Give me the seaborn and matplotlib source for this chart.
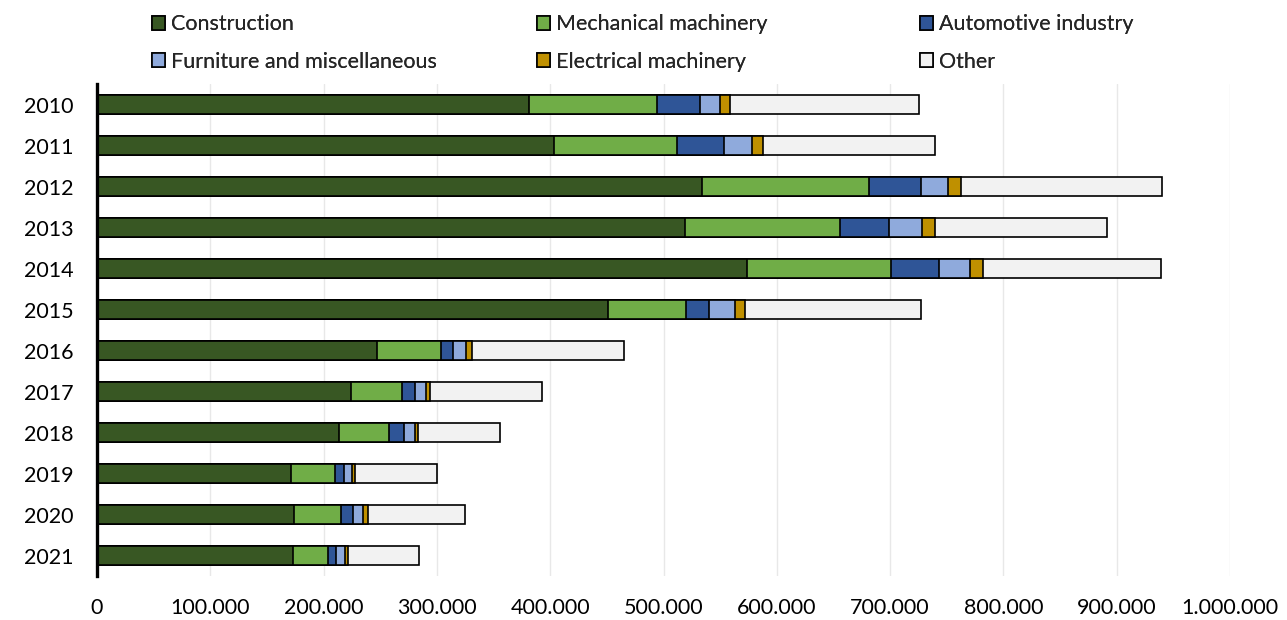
import numpy as np
import pandas as pd
import matplotlib
matplotlib.use("Agg")
import matplotlib.pyplot as plt
import seaborn as sns
from matplotlib.patches import Patch
from matplotlib.ticker import FuncFormatter, MultipleLocator

# ---- data ----
years = ["2010", "2011", "2012", "2013", "2014", "2015",
         "2016", "2017", "2018", "2019", "2020", "2021"]
construction = [381600, 403500, 533800, 519200, 574000, 451200,
                247400, 223900, 213900, 171200, 173900, 173000]
mechanical = [112500, 108400, 147300, 136600, 126700, 68700,
              56000, 45600, 44100, 38600, 41200, 30900]
automotive = [38400, 41900, 45900, 43500, 42200, 20000,
              11100, 10900, 13000, 8200, 11100, 7000]
furniture = [17500, 24200, 24400, 29000, 27400, 23300,
             10900, 10000, 9700, 6800, 8800, 7700]
electrical = [9100, 9800, 11100, 11200, 11800, 8700,
              5600, 3500, 2900, 3200, 4200, 2700]
other = [166600, 151400, 177700, 152000, 157400, 155100,
         133900, 98600, 72100, 71800, 85300, 63200]

series_names = ["Construction", "Mechanical machinery", "Automotive industry",
                "Furniture and miscellaneous", "Electrical machinery", "Other"]
colors = ["#385723", "#70AD47", "#2F5597", "#8FAADC", "#BF9000", "#F2F2F2"]

# ---- style ----
sns.set_theme(style="white")
plt.rcParams["font.family"] = ["Lato", "DejaVu Sans"]
FS = 15.5

W, H = 1287, 620
fig = plt.figure(figsize=(W / 100, H / 100), dpi=100)
ax = fig.add_axes([97 / W, 1 - 576 / H, (1230 - 97) / W, (576 - 84) / H])

values = np.array([construction, mechanical, automotive, furniture, electrical, other])
cum = np.cumsum(values, axis=0)
df = pd.DataFrame({"year": years})
for i, name in enumerate(series_names):
    df[name] = cum[i]

# draw cumulative bars from the longest to the shortest so they stack visually
for i in reversed(range(len(series_names))):
    sns.barplot(data=df, x=series_names[i], y="year", order=years, orient="h",
                color=colors[i], saturation=1, width=0.45,
                edgecolor="black", linewidth=1.2, errorbar=None, ax=ax)

ax.set_xlim(0, 1_000_000)
ax.set_ylim(11.5, -0.5)
ax.xaxis.set_major_locator(MultipleLocator(100_000))
ax.xaxis.set_major_formatter(FuncFormatter(lambda v, p: f"{int(round(v)):,}".replace(",", ".")))
ax.set_xlabel("")
ax.set_ylabel("")
ax.set_axisbelow(True)
ax.grid(axis="x", color="#E8E8E8", linewidth=1.0)
ax.grid(axis="y", visible=False)
for s in ["top", "right", "bottom"]:
    ax.spines[s].set_visible(False)
ax.spines["left"].set_color("black")
ax.spines["left"].set_linewidth(2.4)
ax.tick_params(axis="x", length=0, pad=16, labelsize=FS, labelcolor="black")
ax.tick_params(axis="y", length=0, pad=17, labelsize=FS, labelcolor="black")

# ---- legend: 3 columns x 2 rows, placed like the reference ----
col_x = [152, 537, 920]
row_y = [24.5, 61.5]
for idx, name in enumerate(series_names):
    r, c = divmod(idx, 3)
    h = Patch(facecolor=colors[idx], edgecolor="black", linewidth=1.2)
    leg = fig.legend(handles=[h], labels=[name], loc="center left",
                     bbox_to_anchor=(col_x[c] / W, 1 - row_y[r] / H),
                     frameon=False, borderpad=0, borderaxespad=0,
                     handlelength=0.6, handleheight=0.6, handletextpad=0.3,
                     fontsize=FS)
    fig.add_artist(leg)

fig.savefig("out.png", dpi=100)
